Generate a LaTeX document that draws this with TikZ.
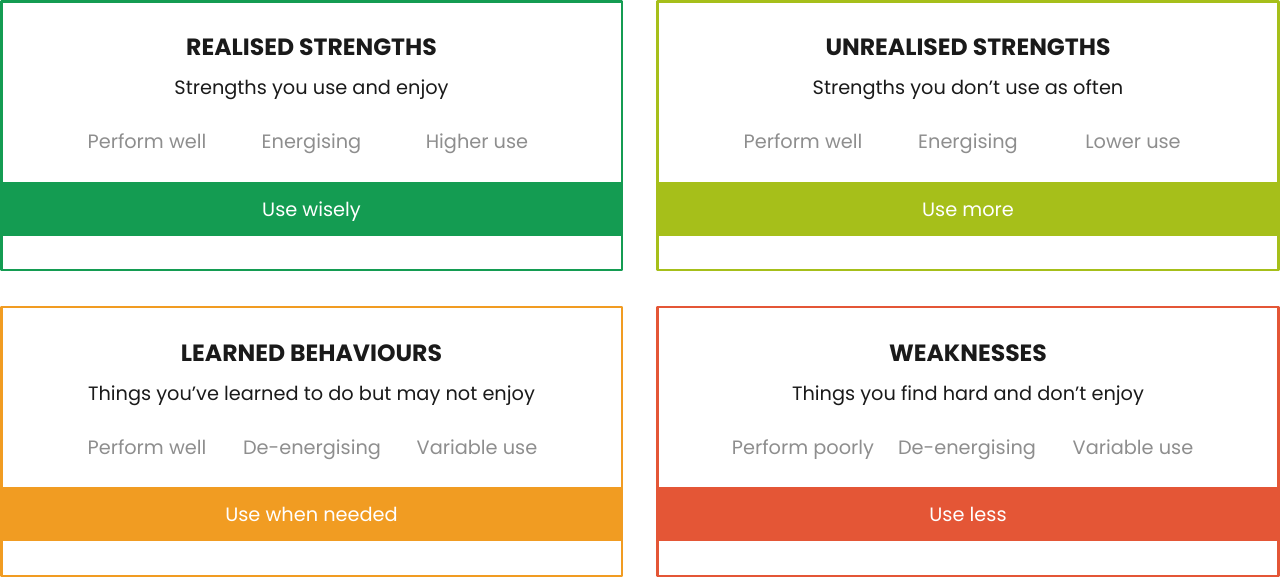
\documentclass[tikz,border=0pt]{standalone}
\usepackage{fontspec}
\setmainfont{Poppins}
\definecolor{cgreen}{HTML}{149C52}
\definecolor{clime}{HTML}{A6BF1A}
\definecolor{corange}{HTML}{F19C22}
\definecolor{cred}{HTML}{E45636}
\definecolor{cgrey}{HTML}{8E8E8E}
\definecolor{cink}{HTML}{1A1A1A}
\begin{document}
\begin{tikzpicture}[x=0.02cm,y=-0.02cm,line join=round,
  card/.style={draw=#1,line width=1.6pt},
  bar/.style={fill=#1},
  head/.style={anchor=base,font=\fontsize{13.4}{15}\selectfont\bfseries,text=cink},
  sub/.style={anchor=base,font=\fontsize{11}{14}\selectfont\color{cink}},
  item/.style={anchor=base,font=\fontsize{11}{14}\selectfont,text=cgrey},
  act/.style={anchor=base,font=\fontsize{11}{14}\selectfont,text=white}]
\useasboundingbox (0,0) rectangle (1280,578);
% realised strengths
\fill[bar=cgreen] (1.5,182) rectangle (622,236);
\draw[card=cgreen] (1.5,1.5) rectangle (622,270);
\node[head] (rsT) at (311.5,55) {REALISED STRENGTHS};
\node[sub] (rsS) at (311.5,94) {Strengths you use and enjoy};
\node[item] (rsA) at (147,148) {Perform well};
\node[item] (rsB) at (311.5,148) {Energising};
\node[item] (rsC) at (477,148) {Higher use};
\node[act] (rsU) at (311.5,216) {Use wisely};
% unrealised strengths
\fill[bar=clime] (657.5,182) rectangle (1278.5,236);
\draw[card=clime] (657.5,1.5) rectangle (1278.5,270);
\node[head] (usT) at (968,55) {UNREALISED STRENGTHS};
\node[sub] (usS) at (968,94) {Strengths you don’t use as often};
\node[item] (usA) at (803,148) {Perform well};
\node[item] (usB) at (968,148) {Energising};
\node[item] (usC) at (1133,148) {Lower use};
\node[act] (usU) at (968,216) {Use more};
% learned behaviours
\fill[bar=corange] (1.5,487) rectangle (622,541);
\draw[card=corange] (1.5,307) rectangle (622,576);
\node[head] (lbT) at (311.5,361) {LEARNED BEHAVIOURS};
\node[sub] (lbS) at (311.5,400) {Things you’ve learned to do but may not enjoy};
\node[item] (lbA) at (147,454) {Perform well};
\node[item] (lbB) at (312,454) {De-energising};
\node[item] (lbC) at (477,454) {Variable use};
\node[act] (lbU) at (311.5,521) {Use when needed};
% weaknesses
\fill[bar=cred] (657.5,487) rectangle (1278.5,541);
\draw[card=cred] (657.5,307) rectangle (1278.5,576);
\node[head] (wkT) at (968,361) {WEAKNESSES};
\node[sub] (wkS) at (968,400) {Things you find hard and don’t enjoy};
\node[item] (wkA) at (803,454) {Perform poorly};
\node[item] (wkB) at (967,454) {De-energising};
\node[item] (wkC) at (1133,454) {Variable use};
\node[act] (wkU) at (968,521) {Use less};
\end{tikzpicture}
\end{document}
